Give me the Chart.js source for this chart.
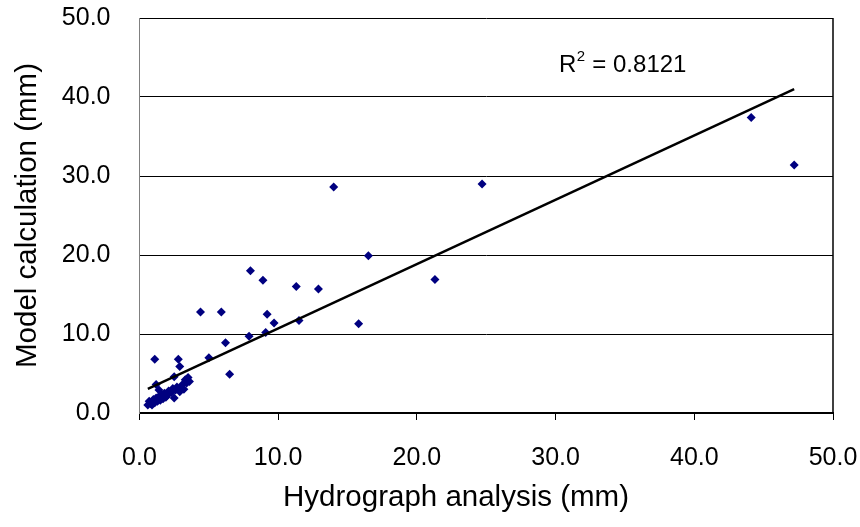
<!DOCTYPE html>
<html>
<head>
<meta charset="utf-8">
<script src="https://cdn.jsdelivr.net/npm/chart.js@4/dist/chart.umd.min.js"></script>
<style>
html,body{margin:0;padding:0;background:#fff;}
#wrap{width:860px;height:527px;position:relative;}
</style>
</head>
<body>
<div id="wrap"><canvas id="c"></canvas></div>
<script>
// Observed data: Hydrograph analysis (x, mm) vs Model calculation (y, mm)
const hydroX = [0.6,0.7,0.8,0.9,1.0,1.1,1.2,1.3,1.4,1.5,1.6,1.7,1.8,1.9,2.0,2.1,2.3,2.4,2.5,2.6,2.7,2.9,3.0,3.1,3.2,3.3,3.4,3.5,3.6,2.5,1.2,1.1,2.8,2.9,1.4,
  4.4,5.0,5.9,6.2,6.5,7.9,8.0,8.9,9.1,9.2,9.7,11.3,11.5,12.9,14.0,15.8,16.5,21.3,24.7,44.1,47.2];
const modelY = [1.0,1.5,1.2,1.0,1.7,1.3,1.9,1.5,2.1,1.6,2.3,1.8,2.5,2.0,2.2,2.8,2.6,3.1,1.9,2.9,3.3,2.7,3.2,3.6,3.0,4.2,3.8,4.5,4.0,4.6,3.6,6.8,6.8,5.9,2.9,
  12.8,7.0,12.8,8.9,4.9,9.7,18.0,16.8,10.2,12.5,11.4,16.0,11.7,15.7,28.6,11.3,19.9,16.9,29.0,37.4,31.4];
// Linear trend line end points (as drawn in the reference)
const trendX = [0.6, 47.2];
const trendY = [3.05, 41.0];
const tickValues = [0,10,20,30,40,50];
const xTitle = 'Hydrograph analysis (mm)';
const yTitle = 'Model calculation (mm)';
const r2Label = ['R', '2', ' = 0.8121'];

const FONT = "'Liberation Sans', Arial, sans-serif";

const points = hydroX.map((x,i)=>({x:x, y:modelY[i]}));
const trend = trendX.map((x,i)=>({x:x, y:trendY[i]}));

const extras = {
  id:'extras',
  afterDraw(chart){
    const {ctx, chartArea:a} = chart;
    ctx.save();
    // right border of plot area
    ctx.strokeStyle = '#000';
    ctx.lineWidth = 1.5;
    ctx.beginPath();
    ctx.moveTo(a.right, a.top);
    ctx.lineTo(a.right, a.bottom);
    ctx.stroke();
    // x axis title
    ctx.fillStyle = '#000';
    ctx.font = '29.5px ' + FONT;
    ctx.textAlign = 'center';
    ctx.textBaseline = 'alphabetic';
    ctx.fillText(xTitle, 456, 506);
    // R^2 annotation
    ctx.textAlign = 'left';
    ctx.font = '24px ' + FONT;
    let x0 = 559, yb = 72;
    ctx.fillText(r2Label[0], x0, yb);
    let w = ctx.measureText(r2Label[0]).width;
    ctx.font = '15px ' + FONT;
    ctx.fillText(r2Label[1], x0 + w + 0.5, yb - 11);
    let w2 = ctx.measureText(r2Label[1]).width;
    ctx.font = '24px ' + FONT;
    ctx.fillText(r2Label[2], x0 + w + w2 + 1, yb);
    ctx.restore();
  }
};

new Chart(document.getElementById('c'), {
  type: 'scatter',
  data: {
    datasets: [
      {
        label: 'Data',
        data: points,
        pointStyle: 'rectRot',
        pointRadius: 4.5,
        pointHoverRadius: 4.5,
        backgroundColor: '#000080',
        borderColor: '#000080',
        borderWidth: 0,
        order: 2
      },
      {
        label: 'Linear trend',
        type: 'line',
        data: trend,
        borderColor: '#000',
        borderWidth: 2.5,
        pointRadius: 0,
        fill: false,
        tension: 0,
        order: 1
      }
    ]
  },
  options: {
    responsive: true,
    maintainAspectRatio: false,
    animation: false,
    devicePixelRatio: 1,
    layout: { padding: { top: 18, right: 27, left: 0, bottom: 0 } },
    plugins: { legend: { display: false }, tooltip: { enabled: false } },
    scales: {
      x: {
        type: 'linear',
        min: 0, max: 50,
        afterBuildTicks(s){ s.ticks = tickValues.map(v=>({value:v})); },
        afterFit(s){ s.height = 114; s.paddingLeft = 0; s.paddingRight = 0; },
        ticks: {
          color: '#000',
          font: { family: FONT, size: 25 },
          padding: 23,
          maxRotation: 0,
          callback: v => Number(v).toFixed(1)
        },
        grid: { display: true, drawOnChartArea: false, drawTicks: true, tickLength: 7, color: '#000', lineWidth: 1 },
        border: { display: true, color: '#000', width: 2 }
      },
      y: {
        type: 'linear',
        min: 0, max: 50,
        afterBuildTicks(s){ s.ticks = tickValues.map(v=>({value:v})); },
        afterFit(s){ s.width = 139.5; s.paddingTop = 0; s.paddingBottom = 0; },
        ticks: {
          color: '#000',
          font: { family: FONT, size: 25 },
          padding: 29,
          callback: v => Number(v).toFixed(1)
        },
        grid: { display: true, drawOnChartArea: true, drawTicks: false, color: '#000', lineWidth: 1 },
        border: { display: true, color: '#808080', width: 1 },
        title: {
          display: true,
          text: yTitle,
          color: '#000',
          font: { family: FONT, size: 29.5 },
          padding: { top: 10.5, bottom: 0 }
        }
      }
    }
  },
  plugins: [extras]
});
</script>
</body>
</html>
